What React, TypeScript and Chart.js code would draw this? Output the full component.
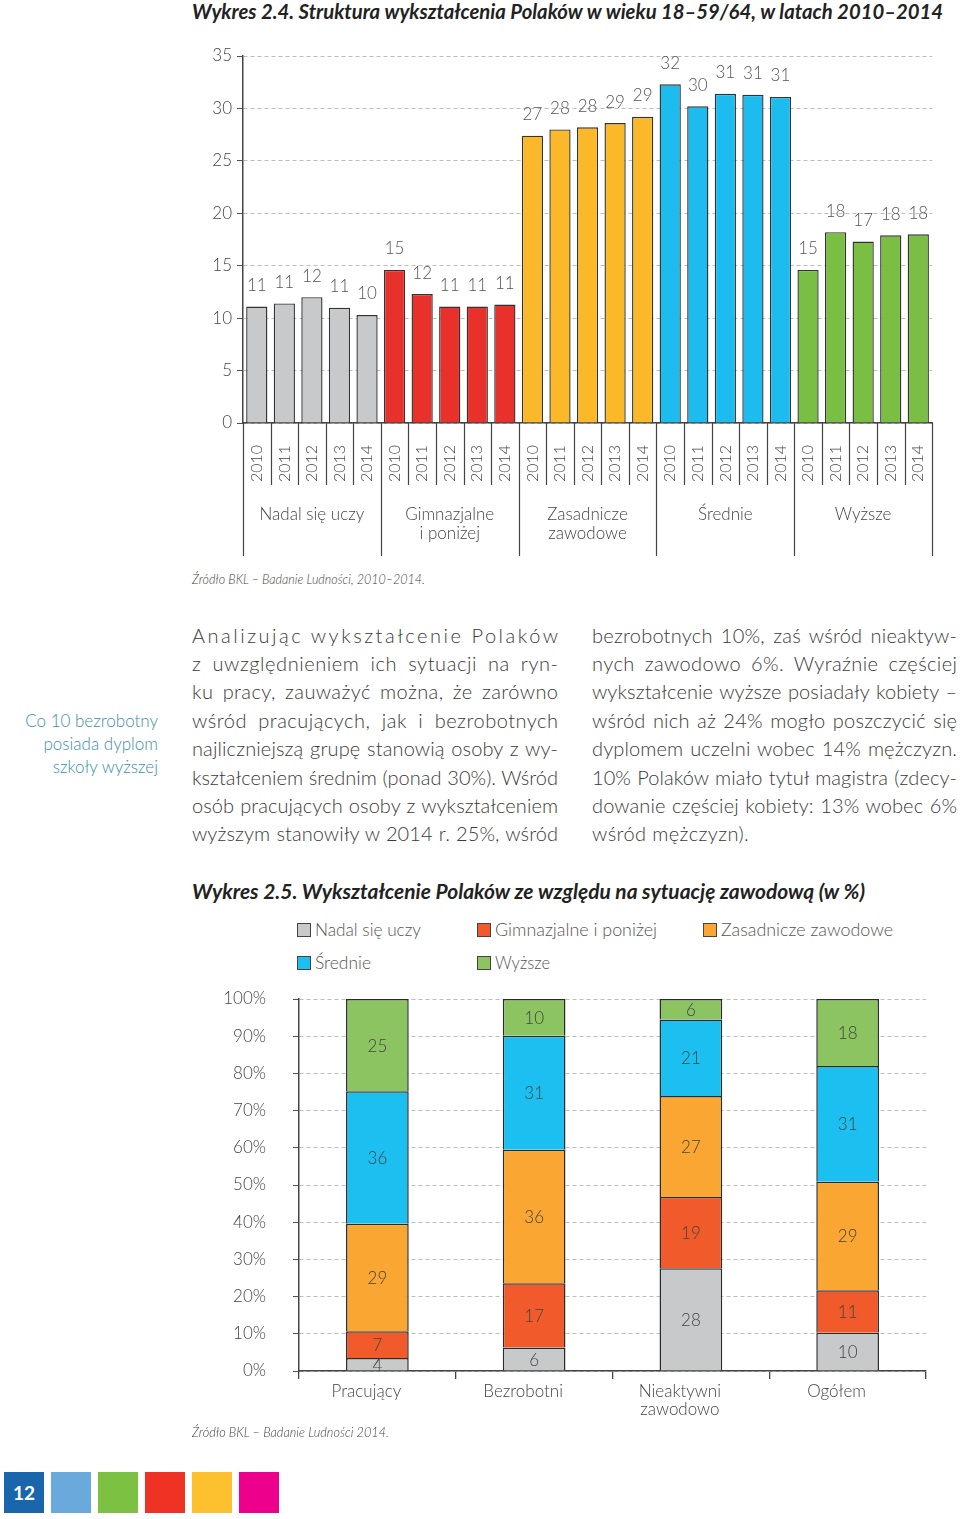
import React, { useEffect, useLayoutEffect, useRef } from 'react';
import { Chart, registerables } from 'chart.js';

Chart.register(...registerables);

const FONT = "Lato, 'Open Sans', 'Noto Sans', sans-serif";
const TXT = '#3a3a3a';

// ---------- Wykres 2.4 data ----------
const years = ['2010', '2011', '2012', '2013', '2014'];
const educationGroups = [['Nadal się uczy'], ['Gimnazjalne', 'i poniżej'], ['Zasadnicze', 'zawodowe'], ['Średnie'], ['Wyższe']];
const nadalSieUczy = [11.1, 11.4, 12.0, 11.0, 10.3];
const gimnazjalne = [14.6, 12.3, 11.1, 11.1, 11.3];
const zasadnicze = [27.4, 28.0, 28.2, 28.6, 29.2];
const srednie = [32.3, 30.2, 31.4, 31.3, 31.1];
const wyzsze = [14.6, 18.2, 17.3, 17.9, 18.0];
const groupColors1 = ['#c8c9cb', '#e8312b', '#fbb92a', '#1cbdee', '#7abf43'];

// ---------- Wykres 2.5 data ----------
const situations = [['Pracujący'], ['Bezrobotni'], ['Nieaktywni', 'zawodowo'], ['Ogółem']];
const legendNames = ['Nadal się uczy', 'Gimnazjalne i poniżej', 'Zasadnicze zawodowe', 'Średnie', 'Wyższe'];
const sitNadal = [3.5, 6.3, 27.6, 10.3];
const sitGimn = [7.2, 17.3, 19.2, 11.4];
const sitZas = [28.9, 35.9, 27.1, 29.2];
const sitSred = [35.6, 30.6, 20.6, 31.1];
const sitWyz = [24.8, 9.9, 5.5, 18.0];
const colors2 = ['#c8c9cb', '#f15a2b', '#f9a632', '#1cc0f0', '#8cc462'];

// ---------- text ----------
const leftLines = [
  'Analizując wykształcenie Polaków',
  'z uwzględnieniem ich sytuacji na ryn-',
  'ku pracy, zauważyć można, że zarówno',
  'wśród pracujących, jak i bezrobotnych',
  'najliczniejszą grupę stanowią osoby z wy-',
  'kształceniem średnim (ponad 30%). Wśród',
  'osób pracujących osoby z wykształceniem',
  'wyższym stanowiły w 2014 r. 25%, wśród',
];
const rightLines = [
  'bezrobotnych 10%, zaś wśród nieaktyw-',
  'nych zawodowo 6%. Wyraźnie częściej',
  'wykształcenie wyższe posiadały kobiety –',
  'wśród nich aż 24% mogło poszczycić się',
  'dyplomem uczelni wobec 14% mężczyzn.',
  '10% Polaków miało tytuł magistra (zdecy-',
  'dowanie częściej kobiety: 13% wobec 6%',
  'wśród mężczyzn).',
];
const sideNote = ['Co 10 bezrobotny', 'posiada dyplom', 'szkoły wyższej'];
const footerColors = ['#1a66ad', '#6aa9dc', '#7cc142', '#ee3224', '#fdc02f', '#ec008c'];

type Mode = 'fit' | 'justify' | 'letter' | 'shrink' | 'spread';

function FitText({ text, x, y, w, mode = 'shrink', style }: { text: string; x: number; y: number; w: number; mode?: Mode; style?: React.CSSProperties }) {
  const ref = useRef<HTMLSpanElement>(null);
  useLayoutEffect(() => {
    const el = ref.current;
    if (!el) return;
    el.style.transform = 'none';
    el.style.wordSpacing = '0px';
    el.style.letterSpacing = '0px';
    const nat = el.getBoundingClientRect().width;
    if (!nat) return;
    if (mode === 'fit' || nat > w) {
      el.style.transform = `scaleX(${w / nat})`;
      return;
    }
    const extra = w - nat;
    const spaces = (text.match(/ /g) || []).length;
    const n = text.length - 1;
    if (mode === 'justify') {
      const ls = Math.min((extra * 0.45) / n, 0.7);
      el.style.letterSpacing = `${ls}px`;
      const rest = extra - ls * n;
      if (spaces) el.style.wordSpacing = `${rest / spaces}px`;
    } else if (mode === 'letter') {
      if (n > 0) el.style.letterSpacing = `${extra / n}px`;
    } else if (mode === 'spread') {
      el.style.letterSpacing = '0.4px';
    }
  }, [text, w, mode]);
  return (
    <span
      ref={ref}
      style={{ position: 'absolute', left: x, top: y, whiteSpace: 'pre', lineHeight: 1, transformOrigin: '0 0', display: 'inline-block', fontFamily: FONT, ...style }}
    >
      {text}
    </span>
  );
}

const valuePlugin1 = {
  id: 'values1',
  afterDatasetsDraw(chart: any) {
    const ctx = chart.ctx;
    const meta = chart.getDatasetMeta(0);
    const data = chart.data.datasets[0].data as number[];
    ctx.save();
    ctx.font = `300 17px ${FONT}`;
    ctx.fillStyle = '#555';
    ctx.textAlign = 'center';
    ctx.textBaseline = 'middle';
    meta.data.forEach((bar: any, i: number) => {
      ctx.fillText(String(Math.round(data[i])), bar.x, bar.y - 21);
    });
    ctx.restore();
  },
};

const groupPlugin1 = {
  id: 'groups1',
  afterDraw(chart: any) {
    const { ctx, chartArea } = chart;
    const xs = chart.scales.x;
    const n = chart.data.labels.length;
    const step = (chartArea.right - chartArea.left) / n;
    const bottom = chartArea.bottom;
    ctx.save();
    ctx.strokeStyle = '#444';
    ctx.lineWidth = 1.2;
    for (let k = 0; k <= n; k++) {
      const px = k < n ? xs.getPixelForValue(k) - step / 2 : xs.getPixelForValue(n - 1) + step / 2;
      const len = k % 5 === 0 ? 133 : 62;
      ctx.beginPath();
      ctx.moveTo(Math.round(px) + 0.5, bottom);
      ctx.lineTo(Math.round(px) + 0.5, bottom + len);
      ctx.stroke();
    }
    ctx.font = `300 17px ${FONT}`;
    ctx.fillStyle = '#444';
    ctx.textAlign = 'center';
    ctx.textBaseline = 'middle';
    educationGroups.forEach((lines, g) => {
      const cx = (xs.getPixelForValue(g * 5) + xs.getPixelForValue(g * 5 + 4)) / 2;
      lines.forEach((t, li) => ctx.fillText(t, cx, bottom + 92 + li * 19));
    });
    ctx.restore();
  },
};

function Chart1() {
  const ref = useRef<HTMLCanvasElement>(null);
  useEffect(() => {
    const values = [...nadalSieUczy, ...gimnazjalne, ...zasadnicze, ...srednie, ...wyzsze];
    const colors = groupColors1.flatMap((c) => years.map(() => c));
    const labels = educationGroups.flatMap(() => years);
    const chart = new Chart(ref.current as HTMLCanvasElement, {
      type: 'bar',
      data: {
        labels,
        datasets: [
          {
            data: values,
            backgroundColor: colors,
            borderColor: '#333',
            borderWidth: 1.4,
            barPercentage: 0.77,
            categoryPercentage: 1,
          },
        ],
      },
      options: {
        animation: false,
        responsive: false,
        maintainAspectRatio: false,
        layout: { padding: { top: 16, right: 25, left: 0, bottom: 0 } },
        plugins: { legend: { display: false }, tooltip: { enabled: false } },
        scales: {
          x: {
            grid: { display: false, drawTicks: false },
            border: { display: true, color: '#444', width: 1.5 },
            ticks: { autoSkip: false, minRotation: 90, maxRotation: 90, padding: 22, color: '#444', font: { family: FONT, size: 16, weight: 300 } },
            afterFit: (s: any) => {
              s.height = 142;
            },
          },
          y: {
            min: 0,
            max: 35,
            ticks: { stepSize: 5, padding: 5, color: '#444', font: { family: FONT, size: 17, weight: 300 } },
            grid: { color: '#bdbdbd', lineWidth: 1, tickLength: 6, tickColor: '#555' },
            border: { display: true, color: '#444', width: 1.5, dash: [4, 3] },
            afterFit: (s: any) => {
              s.width = 53;
              s.paddingTop = 0;
              s.paddingBottom = 0;
            },
          },
        },
      } as any,
      plugins: [valuePlugin1, groupPlugin1],
    });
    return () => chart.destroy();
  }, []);
  return <canvas ref={ref} width={770} height={525} style={{ position: 'absolute', left: 190, top: 40, width: 770, height: 525, display: 'block' }} />;
}

const valuePlugin2 = {
  id: 'values2',
  afterDatasetsDraw(chart: any) {
    const ctx = chart.ctx;
    ctx.save();
    ctx.font = `300 17px ${FONT}`;
    ctx.fillStyle = '#444';
    ctx.textAlign = 'center';
    ctx.textBaseline = 'middle';
    chart.data.datasets.forEach((ds: any, di: number) => {
      const meta = chart.getDatasetMeta(di);
      meta.data.forEach((bar: any, i: number) => {
        const { x, y, base } = bar.getProps(['x', 'y', 'base'], true);
        ctx.fillText(String(Math.round(ds.data[i])), x, (y + base) / 2 + 1);
      });
    });
    // category labels
    const xs = chart.scales.x;
    const bottom = chart.chartArea.bottom;
    ctx.fillStyle = '#444';
    (chart.data.labels as string[][]).forEach((lines, i) => {
      const cx = xs.getPixelForValue(i) - 11;
      lines.forEach((t, li) => ctx.fillText(t, cx, bottom + 21 + li * 18));
    });
    ctx.restore();
  },
};

function Chart2() {
  const ref = useRef<HTMLCanvasElement>(null);
  useEffect(() => {
    const series = [sitNadal, sitGimn, sitZas, sitSred, sitWyz];
    const chart = new Chart(ref.current as HTMLCanvasElement, {
      type: 'bar',
      data: {
        labels: situations,
        datasets: series.map((d, i) => ({
          label: legendNames[i],
          data: d,
          backgroundColor: colors2[i],
          borderColor: '#2a2a2a',
          borderWidth: 1.5,
          barPercentage: 0.4,
          categoryPercentage: 1,
        })),
      },
      options: {
        animation: false,
        responsive: false,
        maintainAspectRatio: false,
        layout: { padding: { top: 14, right: 24, left: 0, bottom: 0 } },
        plugins: { legend: { display: false }, tooltip: { enabled: false } },
        scales: {
          x: {
            stacked: true,
            grid: { display: true, drawOnChartArea: false, offset: true, tickLength: 8, color: '#444', tickColor: '#444', lineWidth: 1.3 },
            border: { display: true, color: '#444', width: 1.5 },
            ticks: { display: false },
            afterFit: (s: any) => {
              s.height = 54;
            },
          },
          y: {
            stacked: true,
            min: 0,
            max: 100,
            ticks: { stepSize: 10, padding: 27, color: '#444', font: { family: FONT, size: 17, weight: 300 }, callback: (v: any) => `${v}%` },
            grid: { color: '#bdbdbd', lineWidth: 1, tickLength: 6, tickColor: '#555' },
            border: { display: true, color: '#444', width: 1.5, dash: [4, 3] },
            afterFit: (s: any) => {
              s.width = 109;
              s.paddingTop = 0;
              s.paddingBottom = 0;
            },
          },
        },
      } as any,
      plugins: [valuePlugin2],
    });
    return () => chart.destroy();
  }, []);
  return <canvas ref={ref} width={760} height={440} style={{ position: 'absolute', left: 190, top: 985, width: 760, height: 440, display: 'block' }} />;
}

const legendPos = [
  { x: 297, y: 930, w: 106 },
  { x: 477, y: 930, w: 162 },
  { x: 703, y: 930, w: 172 },
  { x: 297, y: 963, w: 56 },
  { x: 477, y: 963, w: 55 },
];

export default function App() {
  const bodyStyle: React.CSSProperties = { fontSize: 20, fontWeight: 300, color: TXT };
  return (
    <div style={{ position: 'absolute', left: 0, top: 0, width: 960, height: 1519, background: '#fff', overflow: 'hidden', fontFamily: FONT }}>
      <FitText
        text="Wykres 2.4. Struktura wykształcenia Polaków w wieku 18–59/64, w latach 2010–2014"
        x={192}
        y={0}
        w={751}
        mode="fit"
        style={{ fontSize: 21, fontWeight: 700, fontStyle: 'italic', color: '#222' }}
      />
      <Chart1 />
      <FitText text="Źródło BKL – Badanie Ludności, 2010–2014." x={192} y={573} w={233} mode="fit" style={{ fontSize: 13, fontStyle: 'italic', fontWeight: 300, color: '#444' }} />

      <div style={{ position: 'absolute', left: 0, top: 709, width: 158, textAlign: 'right', fontSize: 17, lineHeight: '23px', fontWeight: 300, color: '#3b8fae' }}>
        {sideNote.map((t) => (
          <div key={t}>{t}</div>
        ))}
      </div>

      {leftLines.map((t, i) => (
        <FitText key={'l' + i} text={t} x={192} y={624.5 + i * 28.4} w={366} mode={i === 0 ? 'letter' : 'justify'} style={bodyStyle} />
      ))}
      {rightLines.map((t, i) => (
        <FitText key={'r' + i} text={t} x={592} y={624.5 + i * 28.4} w={365} mode={i === rightLines.length - 1 ? 'spread' : 'justify'} style={bodyStyle} />
      ))}

      <FitText
        text="Wykres 2.5. Wykształcenie Polaków ze względu na sytuację zawodową (w %)"
        x={192}
        y={880}
        w={673}
        mode="fit"
        style={{ fontSize: 21, fontWeight: 700, fontStyle: 'italic', color: '#222' }}
      />

      {legendNames.map((name, i) => (
        <React.Fragment key={name}>
          <div
            style={{
              position: 'absolute',
              left: legendPos[i].x,
              top: legendPos[i].y - 7,
              width: 12,
              height: 12,
              background: colors2[i],
              border: '1px solid #444',
            }}
          />
          <FitText text={name} x={legendPos[i].x + 18} y={legendPos[i].y - 10} w={legendPos[i].w} mode="fit" style={{ fontSize: 18, fontWeight: 300, color: '#555' }} />
        </React.Fragment>
      ))}

      <Chart2 />
      <FitText text="Źródło BKL – Badanie Ludności 2014." x={192} y={1426} w={197} mode="fit" style={{ fontSize: 13, fontStyle: 'italic', fontWeight: 300, color: '#444' }} />

      {footerColors.map((c, i) => (
        <div
          key={c}
          style={{
            position: 'absolute',
            left: 4 + i * 47,
            top: 1472,
            width: 40,
            height: 41,
            background: c,
            color: '#fff',
            fontWeight: 700,
            fontSize: 19,
            lineHeight: '41px',
            textAlign: 'center',
            fontFamily: FONT,
          }}
        >
          {i === 0 ? '12' : ''}
        </div>
      ))}
    </div>
  );
}
